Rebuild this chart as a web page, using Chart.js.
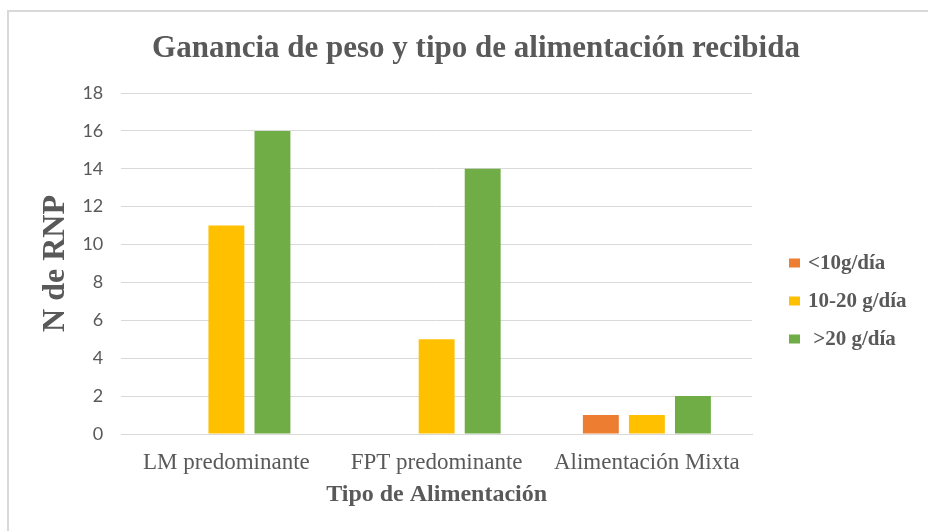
<!DOCTYPE html>
<html>
<head>
<meta charset="utf-8">
<script src="https://cdn.jsdelivr.net/npm/chart.js@4"></script>
<style>
  html, body { margin: 0; padding: 0; background: #fff; }
  #wrap { position: relative; width: 928px; height: 531px; overflow: hidden; }
  #frame { position: absolute; left: 7px; top: 10px; right: -5px; bottom: -5px; border-top: 2px solid #d9d9d9; border-left: 2px solid #d9d9d9; }
  canvas { position: absolute; left: 0; top: 0; }
</style>
</head>
<body>
<div id="wrap">
  <div id="frame"></div>
  <canvas id="chart" width="928" height="531"></canvas>
</div>
<script>
// datos del gráfico
const chartTitle = "Ganancia de peso y tipo de alimentación recibida";
const categories = ["LM predominante", "FPT predominante", "Alimentación Mixta"];
const seriesNames = ["<10g/día", "10-20 g/día", " >20 g/día"];
const menos10 = [0, 0, 1];
const entre10y20 = [11, 5, 1];
const mas20 = [16, 14, 2];
const colors = ["#ED7D31", "#FFC000", "#70AD47"];

const serif = "'Liberation Serif', 'Times New Roman', serif";
const gray = "#595959";

// título y leyenda dibujados a mano para fijar su posición
const extras = {
  id: "extras",
  afterDraw(chart) {
    const { ctx, chartArea } = chart;
    ctx.save();
    ctx.textBaseline = "middle";

    // título
    ctx.font = `bold 31px ${serif}`;
    ctx.textAlign = "center";
    ctx.fillStyle = gray;
    ctx.fillText(chartTitle, 476, 49);

    // leyenda
    const x = chartArea.right + 37;
    const y0 = chartArea.top + 170;
    ctx.font = `bold 21px ${serif}`;
    ctx.textAlign = "left";
    chart.data.datasets.forEach((ds, i) => {
      const y = y0 + i * 38;
      ctx.fillStyle = ds.backgroundColor;
      ctx.fillRect(x, y - 4.5, 11, 9);
      ctx.fillStyle = gray;
      ctx.fillText(ds.label, x + 19, y + 1);
    });
    ctx.restore();
  },
};

function Main() {
  const ctx = document.getElementById("chart").getContext("2d");
  new Chart(ctx, {
    type: "bar",
    data: {
      labels: categories,
      datasets: [menos10, entre10y20, mas20].map((d, i) => ({
        label: seriesNames[i],
        data: d,
        backgroundColor: colors[i],
        categoryPercentage: 0.657,
        barPercentage: 0.78,
      })),
    },
    plugins: [extras],
    options: {
      responsive: false,
      animation: false,
      layout: { padding: { left: 20, right: 176, top: 93, bottom: 24 } },
      plugins: {
        legend: { display: false },
        tooltip: { enabled: false },
      },
      scales: {
        x: {
          grid: { display: false, drawTicks: false },
          border: { color: "#d9d9d9" },
          ticks: { color: gray, font: { family: serif, size: 23, lineHeight: 1 }, padding: 17 },
          title: {
            display: true,
            text: "Tipo de Alimentación",
            color: gray,
            font: { family: serif, size: 24, weight: "bold", lineHeight: 1 },
            padding: { top: -8, bottom: 0 },
          },
        },
        y: {
          min: 0,
          max: 18,
          ticks: { stepSize: 2, color: gray, font: { family: "Lato, 'Open Sans', sans-serif", size: 18 }, padding: 18 },
          grid: { color: "#d9d9d9", drawTicks: false },
          border: { display: false },
          title: {
            display: true,
            text: "N de RNP",
            color: gray,
            font: { family: serif, size: 32, weight: "bold" },
            padding: { top: 17, bottom: -11 },
          },
        },
      },
    },
  });
}

Main();
</script>
</body>
</html>
